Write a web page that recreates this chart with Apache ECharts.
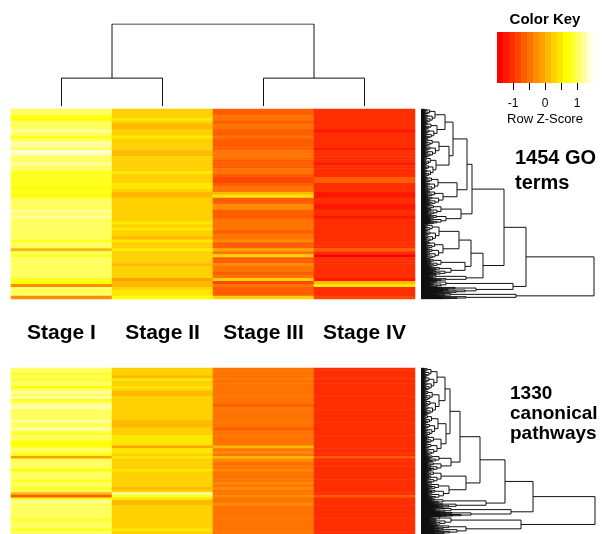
<!DOCTYPE html>
<html><head><meta charset="utf-8">
<script src="https://cdn.jsdelivr.net/npm/echarts@6/dist/echarts.min.js"></script>
<style>html,body{margin:0;padding:0;background:#fff}#c{width:608px;height:534px}</style>
</head><body><div id="c"></div>
<script>
// ---------------- data ----------------
const stages = ['Stage I', 'Stage II', 'Stage III', 'Stage IV'];

// Row z-scores (Stage I, II, III, IV), top heatmap: 1454 GO terms (rows top -> bottom)
const topRows = [
[1.10,0.25,-0.62,-1.05],[1.05,0.32,-0.58,-1.10],[0.80,0.36,-0.52,-1.00],[0.68,0.42,-0.48,-1.05],
[0.98,0.24,-0.62,-1.10],[1.12,0.08,-0.50,-1.00],[1.10,0.12,-0.56,-1.05],[1.18,0.26,-0.66,-1.15],
[1.02,0.28,-0.60,-1.10],[0.80,0.38,-0.52,-1.00],[1.08,0.24,-0.64,-1.05],[1.14,0.30,-0.66,-1.12],
[1.16,0.22,-0.60,-1.05],[1.04,0.33,-0.58,-1.15],[1.35,0.04,-0.46,-0.98],[1.15,0.10,-0.52,-1.00],
[0.98,0.26,-0.56,-1.05],[1.06,0.30,-0.64,-1.10],[1.14,0.22,-0.60,-1.15],[1.10,0.27,-0.66,-1.05],
[1.00,0.34,-0.56,-1.00],[0.78,0.40,-0.50,-1.00],[0.82,0.33,-0.60,-0.95],[0.88,0.36,-0.85,-0.62],
[0.92,0.30,-0.90,-0.58],[0.78,0.40,-0.62,-0.95],[0.72,0.38,-0.48,-1.00],[0.82,0.33,-0.56,-1.05],
[0.88,0.04,0.05,-1.20],[0.62,0.10,0.40,-1.18],[1.04,0.27,-0.62,-1.05],[1.10,0.24,-0.64,-1.00],
[1.00,0.28,-0.30,-1.20],[1.12,0.20,-0.25,-1.30],[1.15,0.25,-0.62,-1.05],[1.10,0.30,-0.66,-1.10],
[1.16,0.24,-0.60,-1.15],[1.06,0.34,-0.56,-1.10],[1.00,0.38,-0.52,-1.05],[1.04,0.26,-0.48,-1.10],
[0.98,0.42,-0.42,-1.05],[1.08,0.28,-0.62,-1.10],[1.02,0.33,-0.54,-1.00],[1.12,0.16,-0.56,-1.05],
[0.78,0.38,-0.32,-1.10],[1.00,0.28,-0.60,-1.00],[1.00,0.25,-0.62,-1.05],[0.15,0.50,-0.15,-0.65],
[1.00,0.36,-0.52,-1.05],[0.88,0.20,0.30,-1.45],[1.04,0.28,-0.62,-1.05],[1.12,0.24,-0.66,-1.10],
[1.08,0.04,-0.36,-1.00],[0.96,0.28,-0.56,-1.05],[0.96,0.34,-0.46,-1.00],[1.04,0.25,-0.62,-1.05],
[1.00,0.30,-0.56,-0.95],[0.88,-0.05,0.30,-1.20],[0.74,0.00,-0.85,0.10],[-0.30,0.18,-0.50,0.55],
[1.04,0.33,-0.62,-1.05],[0.96,0.55,-0.66,-1.10],[1.08,0.48,-0.75,-1.00],[-0.20,0.62,0.20,-0.85]
];

// Bottom heatmap: 1330 canonical pathways (rows top -> bottom, lower rows cropped)
const bottomRows = [
[1.12,0.28,-0.55,-1.00],[1.04,0.24,-0.50,-1.05],[0.82,0.20,-0.45,-1.00],[1.00,0.06,-0.40,-0.95],
[0.86,0.38,-0.50,-1.05],[1.08,0.28,-0.55,-1.00],[0.96,0.33,-0.50,-1.05],[0.72,0.42,-0.45,-1.00],
[1.04,0.24,-0.55,-1.05],[1.14,0.12,-0.50,-1.00],[1.10,0.06,-0.45,-0.95],[1.16,0.20,-0.55,-1.05],
[0.92,0.30,-0.45,-1.00],[1.12,0.25,-0.55,-1.05],[1.20,0.20,-0.60,-1.10],[1.16,0.26,-0.55,-1.05],
[1.00,0.34,-0.45,-1.00],[1.04,0.28,-0.50,-1.05],[1.12,0.24,-0.55,-1.05],[1.08,0.30,-0.50,-1.10],
[1.16,0.16,-0.50,-1.05],[1.12,0.03,-0.40,-0.95],[1.08,0.12,-0.45,-1.00],[1.22,0.25,-0.60,-1.10],
[1.00,0.28,-0.50,-1.05],[0.92,0.34,-0.45,-1.00],[0.98,0.42,-0.40,-1.00],[1.05,0.52,-0.45,-1.00],
[0.64,0.48,-0.40,-0.95],[0.72,0.38,-0.40,-1.00],[0.88,-0.05,0.00,-0.95],[1.00,0.52,-0.50,-1.00],
[0.95,0.38,-0.35,-0.95],[0.74,0.33,-0.45,-0.95],[-0.10,0.48,0.15,-0.70],[1.00,0.33,-0.30,-0.95],
[1.00,0.28,-0.40,-0.95],[1.00,0.24,-0.50,-1.00],[1.05,0.34,-0.40,-0.95],[0.65,0.44,-0.35,-0.95],
[1.12,0.24,-0.55,-1.05],[1.02,0.33,-0.45,-1.00],[1.00,0.28,-0.50,-1.00],[0.92,0.24,-0.40,-1.00],
[0.98,0.34,-0.35,-1.00],[1.04,0.20,-0.50,-1.00],[0.92,0.04,-0.20,-0.95],[1.00,0.33,-0.40,-1.00],
[0.10,1.15,-0.45,-0.95],[-0.60,0.85,-0.20,-0.70],[0.84,0.38,-0.45,-1.00],[1.16,0.16,-0.50,-1.05],
[1.04,0.04,-0.30,-1.00],[1.12,0.24,-0.55,-1.05],[1.00,0.33,-0.45,-1.00],[1.08,0.28,-0.55,-1.05],
[0.96,0.28,-0.50,-1.00],[1.12,0.24,-0.55,-1.05],[0.90,0.33,-0.45,-1.00],[1.04,0.25,-0.50,-1.00],
[1.00,0.28,-0.50,-1.00],[1.12,0.24,-0.55,-1.05],[0.86,0.38,-0.45,-1.00],[1.08,0.24,-0.50,-1.05]
];

// Colour key: heat.colors(16) over breaks -1.5 .. 1.5
const heatColors = ['#FF0000','#FF1700','#FF2E00','#FF4600','#FF5D00','#FF7400','#FF8B00','#FFA200',
                    '#FFB900','#FFD100','#FFE800','#FFFF00','#FFFF20','#FFFF60','#FFFF9F','#FFFFDF'];
const keyBreaks = [-1.5,-1.3125,-1.125,-0.9375,-0.75,-0.5625,-0.375,-0.1875,0,
                   0.1875,0.375,0.5625,0.75,0.9375,1.125,1.3125,1.5];
const keyTicks = [-1, -0.5, 0, 0.5, 1];

// Column dendrogram: [height, left, right]
const colTree = [3.0, [1.02, 'Stage I', 'Stage II'], [1.02, 'Stage III', 'Stage IV']];

// Row dendrograms: internal node = [height, left, right]; leaf cluster = [leafCount, height]
const topTree =
 [173,
   [105,
     [83,
       [51,
         [46,
           [32, [24, [42,14], [48,16]], [28, [54,18], [60,15]]],
           [36, [42,17], [42,22]]],
         [40, [30,20], [27,25]]],
       [62,
         [50, [38, [54,18], [51,22]], [44, [24,20], [24,30]]],
         [45, [9,15], [9,25]]]],
     [92, [18,25], [18,55]]],
   [95, [9,30], [9,45]]];

const bottomTree =
 [174,
   [112,
     [84,
       [59,
         [39,
           [29, [24, [78,16], [84,18]], [25, [72,17], [66,20]]],
           [30, [24,18], [30,20]]],
         [45, [42,20], [54,28]]],
       [65, [15,22], [15,35]]],
     [90, [15,30], [15,50]]],
   [100, [30,30], [30,45]]];

const goLabel = ['1454 GO', 'terms'];
const pathLabel = ['1330', 'canonical', 'pathways'];

// ---------------- helpers ----------------
const FONT = "'Liberation Sans', Arial, Helvetica, sans-serif";

function heatData(rows) {
  const out = [];
  rows.forEach((r, i) => r.forEach((v, j) => out.push([j, i, v])));
  return out;
}
function clusterLayout(n, h, st, segs) {
  if (n <= 1) { const y = st.next + 0.5; st.next += 1; return { y: y, h: 0 }; }
  const n1 = Math.max(1, Math.round(n * 0.4)), n2 = n - n1;
  const a = clusterLayout(n1, n1 > 1 ? h * 0.62 : 0, st, segs);
  const b = clusterLayout(n2, n2 > 1 ? h * 0.8 : 0, st, segs);
  segs.push([[a.h, a.y], [h, a.y], [h, b.y], [b.h, b.y]]);
  return { y: (a.y + b.y) / 2, h: h };
}
function treeLayout(node, st, segs) {
  if (node.length === 2) return clusterLayout(node[0], node[1], st, segs);
  const a = treeLayout(node[1], st, segs), b = treeLayout(node[2], st, segs);
  segs.push([[a.h, a.y], [node[0], a.y], [node[0], b.y], [b.h, b.y]]);
  return { y: (a.y + b.y) / 2, h: node[0] };
}
function rowDendro(tree) {
  const segs = [], st = { next: 0 };
  treeLayout(tree, st, segs);
  return { segs: segs, n: st.next };
}
function colDendro(node, segs) {
  if (typeof node === 'string') return { x: stages.indexOf(node) + 0.5, h: 0 };
  const a = colDendro(node[1], segs), b = colDendro(node[2], segs);
  segs.push([[a.x, a.h], [a.x, node[0]], [b.x, node[0]], [b.x, b.h]]);
  return { x: (a.x + b.x) / 2, h: node[0] };
}

const topD = rowDendro(topTree);
const botD = rowDendro(bottomTree);
const colSegs = []; colDendro(colTree, colSegs);

const rowCats = n => Array.from({ length: n }, (_, i) => String(i));
const hidden = { show: false };

const chart = echarts.init(document.getElementById('c'), null, { renderer: 'canvas' });
const lineStyle = { color: '#111', width: 1, opacity: 1 };

chart.setOption({
  animation: false,
  backgroundColor: '#ffffff',
  textStyle: { fontFamily: FONT },
  grid: [
    { left: 11, top: 109, width: 404, height: 190 },   // 0 top heatmap
    { left: 11, top: 368, width: 404, height: 190 },   // 1 bottom heatmap (cropped)
    { left: 11, top: 24, width: 404, height: 82 },     // 2 column dendrogram
    { left: 421, top: 109, width: 176, height: 190 },  // 3 top row dendrogram
    { left: 421, top: 368, width: 176, height: 190 },  // 4 bottom row dendrogram
    { left: 497, top: 32, width: 96, height: 51 }      // 5 colour key
  ],
  xAxis: [
    { gridIndex: 0, type: 'category', data: stages, axisLine: hidden, axisTick: hidden, splitLine: hidden,
      axisLabel: { show: true, interval: 0, hideOverlap: false, margin: 24, fontSize: 21, fontWeight: 'bold',
                   color: '#000', fontFamily: FONT } },
    { gridIndex: 1, type: 'category', data: stages, show: false },
    { gridIndex: 2, type: 'value', min: 0, max: 4, show: false },
    { gridIndex: 3, type: 'value', min: 0, max: 176, show: false },
    { gridIndex: 4, type: 'value', min: 0, max: 176, show: false },
    { gridIndex: 5, type: 'value', min: -1.5, max: 1.5, interval: 0.5,
      axisLine: hidden, axisTick: hidden, splitLine: hidden,
      axisLabel: { margin: 15, fontSize: 12, color: '#000', fontFamily: FONT,
        formatter: v => (Math.abs(v - Math.round(v)) < 1e-9 && Math.abs(v) < 1.4) ? String(v) : '' } }
  ],
  yAxis: [
    { gridIndex: 0, type: 'category', data: rowCats(topRows.length), inverse: true, show: false },
    { gridIndex: 1, type: 'category', data: rowCats(bottomRows.length), inverse: true, show: false },
    { gridIndex: 2, type: 'value', min: 0, max: 3.0, show: false },
    { gridIndex: 3, type: 'value', min: 0, max: topD.n, inverse: true, show: false },
    { gridIndex: 4, type: 'value', min: 0, max: botD.n, inverse: true, show: false },
    { gridIndex: 5, type: 'value', min: 0, max: 1, show: false }
  ],
  visualMap: {
    type: 'piecewise', show: false, seriesIndex: [0, 1], dimension: 2,
    pieces: heatColors.map((c, i) => i === heatColors.length - 1
      ? { gte: keyBreaks[i], lte: keyBreaks[i + 1], color: c }
      : { gte: keyBreaks[i], lt: keyBreaks[i + 1], color: c })
  },
  series: [
    { type: 'heatmap', xAxisIndex: 0, yAxisIndex: 0, data: heatData(topRows), silent: true,
      itemStyle: { borderWidth: 0 }, emphasis: { disabled: true } },
    { type: 'heatmap', xAxisIndex: 1, yAxisIndex: 1, data: heatData(bottomRows), silent: true,
      itemStyle: { borderWidth: 0 }, emphasis: { disabled: true } },
    { type: 'lines', coordinateSystem: 'cartesian2d', xAxisIndex: 2, yAxisIndex: 2, polyline: true, silent: true,
      lineStyle: lineStyle, data: colSegs.map(c => ({ coords: c })) },
    { type: 'lines', coordinateSystem: 'cartesian2d', xAxisIndex: 3, yAxisIndex: 3, polyline: true, silent: true,
      lineStyle: lineStyle, data: topD.segs.map(c => ({ coords: c })) },
    { type: 'lines', coordinateSystem: 'cartesian2d', xAxisIndex: 4, yAxisIndex: 4, polyline: true, silent: true,
      lineStyle: lineStyle, data: botD.segs.map(c => ({ coords: c })) },
    { type: 'custom', xAxisIndex: 5, yAxisIndex: 5, silent: true, encode: { x: [0, 1] },
      data: heatColors.map((c, i) => [keyBreaks[i], keyBreaks[i + 1]]),
      renderItem: (params, api) => {
        const p0 = api.coord([api.value(0), 1]);
        const p1 = api.coord([api.value(1), 0]);
        return { type: 'rect', shape: { x: p0[0], y: p0[1], width: p1[0] - p0[0], height: p1[1] - p0[1] },
                 style: { fill: heatColors[params.dataIndex] } };
      } },
    { type: 'custom', xAxisIndex: 5, yAxisIndex: 5, silent: true, encode: { x: 0 },
      data: keyTicks.map(v => [v]),
      renderItem: (params, api) => {
        const p = api.coord([api.value(0), 0]);
        const x = Math.round(p[0]) + 0.5;
        return { type: 'line', shape: { x1: x, y1: p[1], x2: x, y2: p[1] + 7 },
                 style: { stroke: '#000', lineWidth: 1 } };
      } }
  ],
  graphic: [
    { type: 'text', x: 545, y: 20, style: { text: 'Color Key', font: 'bold 15px ' + FONT, fill: '#000',
      textAlign: 'center', textVerticalAlign: 'middle' } },
    { type: 'text', x: 545, y: 119, style: { text: 'Row Z-Score', font: '13px ' + FONT, fill: '#000',
      textAlign: 'center', textVerticalAlign: 'middle' } },
    { type: 'text', x: 515, y: 146, style: { text: goLabel.join('\n'), font: 'bold 20px ' + FONT, fill: '#000',
      lineHeight: 25, textAlign: 'left', textVerticalAlign: 'top' } },
    { type: 'text', x: 510, y: 384, style: { text: pathLabel.join('\n'), font: 'bold 19px ' + FONT, fill: '#000',
      lineHeight: 20, textAlign: 'left', textVerticalAlign: 'top' } }
  ]
});
</script>
</body></html>
